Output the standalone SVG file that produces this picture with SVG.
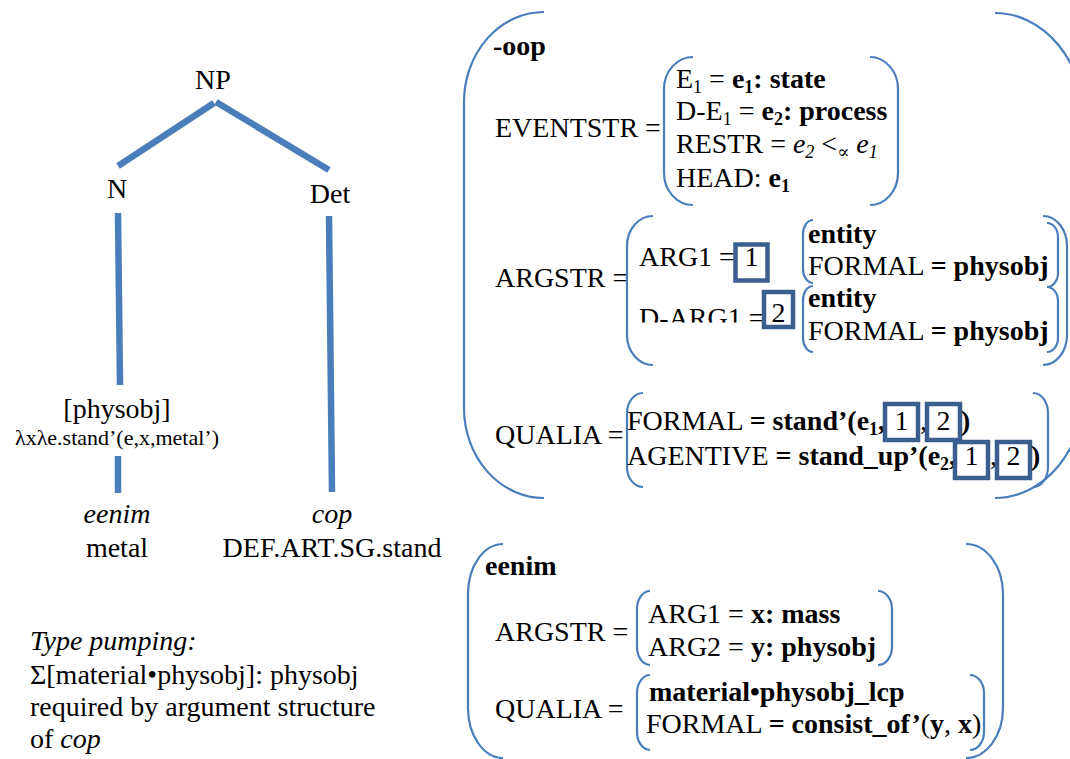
<svg xmlns="http://www.w3.org/2000/svg" width="1070" height="759" viewBox="0 0 1070 759" font-family="'Liberation Serif', 'DejaVu Serif', serif">
<style>
text{font-family:"Liberation Serif","Tinos","DejaVu Serif",serif;font-size:28px;fill:#000}
.b{font-weight:bold}
.i{font-style:italic}
.sm{font-size:22px}
.tree{stroke:#4a7ebb;stroke-width:6.5;fill:none}
.br{stroke:#4a7ebb;stroke-width:2.2;fill:none}
.box{stroke:#3a5f8f;stroke-width:4.5;fill:none}
</style>
<defs>
<clipPath id="clipD"><rect x="600" y="280" width="180" height="42.5"/></clipPath>
</defs>
<rect width="1070" height="759" fill="#fff"/>

<g id="connectors">
<line class="tree" x1="118" y1="166" x2="214" y2="103"/>
<line class="tree" x1="216" y1="102" x2="329" y2="170"/>
<line class="tree" x1="118" y1="213" x2="120" y2="385"/>
<line class="tree" x1="118" y1="456" x2="118" y2="493"/>
<line class="tree" x1="329" y1="216" x2="332" y2="492"/>
</g>

<g id="node-NP"><text x="213" y="89" text-anchor="middle">NP</text></g>
<g id="node-N"><text x="117" y="198" text-anchor="middle">N</text></g>
<g id="node-Det"><text x="330" y="203" text-anchor="middle">Det</text></g>
<g id="node-physobj">
<text x="117" y="418" text-anchor="middle">[physobj]</text>
<text class="sm" x="117" y="445" text-anchor="middle">λxλe.stand’(e,x,metal’)</text>
</g>
<g id="node-eenim">
<text class="i" x="117" y="523" text-anchor="middle">eenim</text>
<text x="117" y="557" text-anchor="middle">metal</text>
</g>
<g id="node-cop">
<text class="i" x="332" y="523" text-anchor="middle">cop</text>
<text x="332" y="557" text-anchor="middle">DEF.ART.SG.stand</text>
</g>

<g id="note">
<text class="i" x="30" y="650">Type pumping:</text>
<text x="30" y="684">Σ[material•physobj]: physobj</text>
<text x="30" y="716">required by argument structure</text>
<text x="30" y="748">of <tspan class="i">cop</tspan></text>
</g>

<g id="oop">
<path class="br" d="M544,12 A80,90 0 0 0 464,102 L464,408 A80,90 0 0 0 544,498"/>
<path class="br" d="M995,13 A90,110 0 0 1 1085,123 L1085,388 A90,110 0 0 1 995,498"/>
<text class="b" x="493" y="55">-oop</text>

<text x="495" y="137">EVENTSTR =</text>
<path class="br" d="M693,57 A29,32 0 0 0 664,89 L664,173 A29,32 0 0 0 693,205"/>
<path class="br" d="M870,57 A28,32 0 0 1 898,89 L898,173 A28,32 0 0 1 870,205"/>
<text x="676" y="88">E<tspan font-size="18" dy="5">1</tspan><tspan dy="-5"> = </tspan><tspan class="b">e<tspan font-size="18" dy="5">1</tspan><tspan dy="-5">: state</tspan></tspan></text>
<text x="676" y="120">D-E<tspan font-size="18" dy="5">1</tspan><tspan dy="-5"> = </tspan><tspan class="b">e<tspan font-size="18" dy="5">2</tspan><tspan dy="-5">: process</tspan></tspan></text>
<text x="676" y="153">RESTR = <tspan class="i">e<tspan font-size="18" dy="5">2</tspan></tspan><tspan dy="-5"> &lt;</tspan><tspan class="i" font-size="18" dy="5">∝</tspan><tspan class="i" dy="-5"> e<tspan font-size="18" dy="5">1</tspan></tspan></text>
<text x="676" y="187">HEAD: <tspan class="b">e<tspan font-size="18" dy="5">1</tspan></tspan></text>

<text x="495" y="287">ARGSTR =</text>
<path class="br" d="M653,216 A26,30 0 0 0 627,246 L627,335 A26,30 0 0 0 653,365"/>
<path class="br" d="M1043,216 A24,30 0 0 1 1067,246 L1067,335 A24,30 0 0 1 1043,365"/>
<text x="639" y="266">ARG1 =</text>
<rect class="box" x="735.5" y="244.5" width="32" height="36"/>
<text x="751.5" y="266" text-anchor="middle">1</text>
<text x="639" y="327" clip-path="url(#clipD)">D-ARG1 =</text>
<rect class="box" x="764" y="292" width="29" height="35"/>
<text x="778.5" y="322" text-anchor="middle">2</text>
<path class="br" d="M813,220 A10,14 0 0 0 803,234 L803,269 A10,14 0 0 0 813,283"/>
<path class="br" d="M813,286 A10,14 0 0 0 803,300 L803,338 A10,14 0 0 0 813,352"/>
<path class="br" d="M1047,223 A11,14 0 0 1 1058,237 L1058,273 A11,14 0 0 1 1047,287"/>
<path class="br" d="M1047,287 A11,14 0 0 1 1058,301 L1058,338 A11,14 0 0 1 1047,352"/>
<text class="b" x="808" y="243">entity</text>
<text x="808" y="275">FORMAL <tspan class="b">= physobj</tspan></text>
<text class="b" x="808" y="307">entity</text>
<text x="808" y="340">FORMAL <tspan class="b">= physobj</tspan></text>

<text x="495" y="444">QUALIA =</text>
<path class="br" d="M643,393 A16,20 0 0 0 627,413 L627,467 A16,20 0 0 0 643,487"/>
<path class="br" d="M1033,393 A15,20 0 0 1 1048,413 L1048,467 A15,20 0 0 1 1033,487"/>
<text x="627" y="430">FORMAL <tspan class="b">= stand’(e<tspan font-size="18" dy="5">1</tspan><tspan dy="-5">,</tspan></tspan></text>
<rect class="box" x="885" y="404" width="33" height="36"/>
<text x="901.5" y="430" text-anchor="middle">1</text>
<text x="920" y="430">,</text>
<rect class="box" x="927" y="404" width="33" height="36"/>
<text x="943.5" y="430" text-anchor="middle">2</text>
<text class="b" x="961" y="430">)</text>
<text x="627" y="465">AGENTIVE <tspan class="b">= stand_up’(e<tspan font-size="18" dy="5">2</tspan><tspan dy="-5">,</tspan></tspan></text>
<rect class="box" x="955" y="442" width="33" height="36"/>
<text x="971.5" y="465" text-anchor="middle">1</text>
<text x="990" y="465">,</text>
<rect class="box" x="997" y="442" width="33" height="36"/>
<text x="1013.5" y="465" text-anchor="middle">2</text>
<text class="b" x="1031" y="465">)</text>
</g>

<g id="eenim-lex">
<path class="br" d="M503,544 A35,50 0 0 0 468,594 L468,708 A35,50 0 0 0 503,758"/>
<path class="br" d="M966,544 A37,50 0 0 1 1003,594 L1003,708 A37,50 0 0 1 966,758"/>
<text class="b" x="485" y="575">eenim</text>
<text x="495" y="641">ARGSTR =</text>
<path class="br" d="M650,591 A13,18 0 0 0 637,609 L637,647 A13,18 0 0 0 650,665"/>
<path class="br" d="M878,591 A14,18 0 0 1 892,609 L892,647 A14,18 0 0 1 878,665"/>
<text x="648" y="623">ARG1 = <tspan class="b">x: mass</tspan></text>
<text x="648" y="656">ARG2 = <tspan class="b">y: physobj</tspan></text>
<text x="495" y="718">QUALIA =</text>
<path class="br" d="M650,675 A13,18 0 0 0 637,693 L637,732 A13,18 0 0 0 650,750"/>
<path class="br" d="M970,675 A14,18 0 0 1 984,693 L984,732 A14,18 0 0 1 970,750"/>
<text class="b" x="649" y="701">material•physobj_lcp</text>
<text x="646" y="733">FORMAL <tspan class="b">= consist_of’</tspan>(<tspan class="b">y</tspan>, <tspan class="b">x</tspan>)</text>
</g>
</svg>
